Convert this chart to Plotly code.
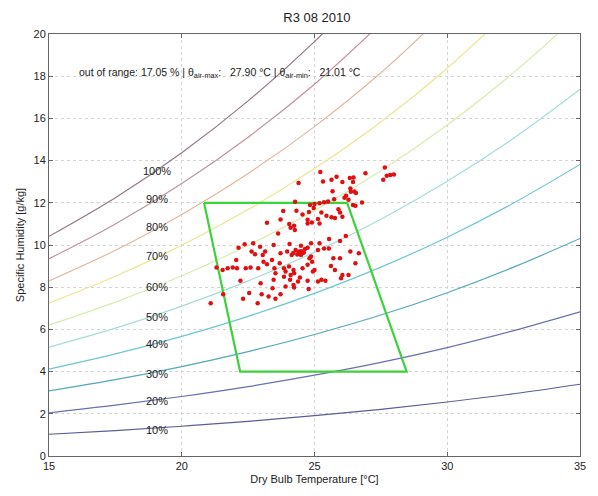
import plotly.graph_objects as go

# ---- data ----
temps = [15, 17.5, 20, 22.5, 25, 27.5, 30, 32.5, 35]
rh_levels = ["10%", "20%", "30%", "40%", "50%", "60%", "70%", "80%", "90%", "100%"]
rh_10 = [1.03, 1.20, 1.41, 1.64, 1.91, 2.21, 2.56, 2.95, 3.40]
rh_20 = [2.05, 2.41, 2.82, 3.29, 3.83, 4.44, 5.14, 5.94, 6.83]
rh_30 = [3.09, 3.62, 4.24, 4.95, 5.76, 6.68, 7.74, 8.95, 10.31]
rh_40 = [4.12, 4.84, 5.67, 6.62, 7.71, 8.95, 10.37, 11.99, 13.82]
rh_50 = [5.16, 6.06, 7.10, 8.30, 9.66, 11.22, 13.02, 15.06, 17.38]
rh_60 = [6.20, 7.29, 8.54, 9.99, 11.63, 13.52, 15.69, 18.17, 20.97]
rh_70 = [7.25, 8.52, 9.99, 11.68, 13.62, 15.83, 18.38, 21.30]
rh_80 = [8.30, 9.75, 11.45, 13.39, 15.61, 18.16, 21.10]
rh_90 = [9.35, 11.00, 12.91, 15.11, 17.62, 20.50]
rh_100 = [10.41, 12.24, 14.37, 16.83, 19.64, 22.87]
rh_curves = [rh_10, rh_20, rh_30, rh_40, rh_50, rh_60, rh_70, rh_80, rh_90, rh_100]
rh_colors = ["#5a5a9c", "#6670b0", "#52a8ba", "#6cc6d2", "#a6dcd8",
             "#d8ecb0", "#ece68e", "#e0b8a0", "#c0929c", "#907888"]

label_x = 19.05
label_y = [1.25, 2.61, 3.91, 5.32, 6.59, 8.0, 9.46, 10.85, 12.16, 13.53]

# comfort zone polygon
zone_t = [20.84, 26.23, 28.47, 22.2, 20.84]
zone_w = [12.0, 12.0, 4.0, 4.0, 12.0]

# measured points
meas_t = [27.65, 25.22, 24.40, 25.32, 25.64, 25.83, 26.05, 26.33, 26.47, 26.45, 26.92, 27.59, 27.72, 27.85, 27.99,
          25.68, 26.35, 26.37, 26.50, 26.19, 26.56, 25.74, 26.13, 26.28, 26.79, 26.45, 26.54, 24.27, 24.83, 25.0,
          25.19, 25.36, 25.51, 25.9, 25.96, 23.82, 23.72, 24.32, 24.55, 24.79, 24.97, 25.26, 25.45, 25.64, 23.21,
          24.05, 24.23, 24.74, 24.9, 25.13, 25.77, 26.05, 24.10, 24.26, 24.74, 25.19, 23.63,
          22.14, 22.37, 22.69, 22.95, 23.46, 24.06, 24.49, 24.87, 25.19, 25.55, 25.96, 26.18, 26.35, 26.67,
          25.54, 25.36, 25.13, 22.63, 22.76, 23.05, 23.14, 23.72, 23.97, 24.14, 24.29, 24.42, 24.55, 24.64,
          24.74, 24.49, 24.87, 24.81,
          22.05, 22.08, 21.31, 21.54, 21.73, 21.92, 22.41, 22.59, 22.88, 23.08, 23.21, 23.40, 23.49, 23.69,
          23.85, 24.04, 24.21, 24.55, 24.74, 24.91, 25.71, 25.96, 25.62, 25.77, 26.54, 26.05, 26.0, 26.28,
          22.21, 21.56, 21.09, 22.31, 22.54, 22.86, 22.97, 23.01, 23.27, 23.42, 23.46, 23.53, 23.72, 23.53,
          23.85, 23.91, 24.10, 24.08, 24.21, 24.23, 24.38, 24.45, 24.74, 24.78, 24.94, 25.0, 25.13, 25.26,
          25.41, 23.91, 24.23, 24.4, 24.5, 24.35, 24.6, 24.2]
meas_w = [13.67, 13.46, 12.94, 13.01, 13.09, 13.23, 12.98, 13.17, 13.20, 12.99, 13.40, 13.09, 13.28, 13.32, 13.34,
          12.55, 12.68, 12.52, 12.54, 12.33, 12.46, 12.17, 12.24, 12.14, 12.02, 11.89, 11.86, 12.05, 11.89, 11.94,
          11.98, 12.03, 12.06, 11.7, 11.54, 11.61, 11.21, 11.62, 11.45, 11.56, 11.75, 11.54, 11.39, 11.31, 11.06,
          11.0, 10.91, 11.2, 11.07, 11.23, 11.28, 11.34, 10.82, 10.71, 11.02, 11.02, 10.55,
          9.87, 10.03, 10.08, 9.92, 10.0, 10.05, 9.97, 10.08, 10.08, 10.28, 10.19, 10.43, 9.69, 9.61,
          9.84, 9.84, 9.76, 9.69, 9.56, 9.53, 9.69, 9.61, 9.69, 9.53, 9.76, 9.69, 9.61, 9.81,
          9.87, 9.53, 9.45, 9.37,
          9.29, 8.9, 8.93, 8.82, 8.9, 8.93, 8.9, 8.93, 8.9, 9.21, 9.09, 9.29, 8.9, 9.13,
          8.9, 8.98, 8.82, 8.9, 9.06, 9.21, 9.37, 9.37, 9.0, 8.82, 9.13, 8.58, 8.43, 8.58,
          8.31, 7.67, 7.24, 7.45, 7.72, 7.24, 8.19, 7.67, 7.56, 7.95, 8.35, 7.45, 7.67, 8.66,
          8.50, 8.03, 8.58, 8.35, 8.11, 7.98, 8.27, 8.46, 8.30, 7.91, 8.74, 8.82, 8.27, 8.35,
          8.30, 8.74, 8.66, 9.6, 9.7, 9.55, 9.65, 9.62]

x_ticks = [15, 20, 25, 30, 35]
y_ticks = [0, 2, 4, 6, 8, 10, 12, 14, 16, 18, 20]

fig = go.Figure()

for name, vals, col in zip(rh_levels, rh_curves, rh_colors):
    fig.add_trace(go.Scatter(x=temps[:len(vals)], y=vals, mode="lines", name=name,
                             line=dict(color=col, width=1.2, shape="spline", smoothing=1.0),
                             hoverinfo="skip", showlegend=False))

fig.add_trace(go.Scatter(x=zone_t, y=zone_w, mode="lines",
                         line=dict(color="#3cd23c", width=2.2), showlegend=False))

fig.add_trace(go.Scatter(x=meas_t, y=meas_w, mode="markers",
                         marker=dict(color="#e01010", size=4.5), showlegend=False))

for name, ly in zip(rh_levels, label_y):
    fig.add_annotation(x=label_x, y=ly, text=name, showarrow=False,
                       font=dict(size=11, color="#222"), xanchor="center", yanchor="middle")

fig.add_annotation(x=16.05, y=18.15, xanchor="left", yanchor="middle", showarrow=False,
                   text="out of range: 17.05 % | θ<sub>air-max</sub>:   27.90 °C | θ<sub>air-min</sub>:   21.01 °C",
                   font=dict(size=10.5, color="#222"))

axis_common = dict(showline=True, linecolor="#666", linewidth=1, mirror="ticks",
                   ticks="inside", ticklen=4, tickcolor="#666",
                   showgrid=True, gridcolor="#d4d4d4", griddash="dot", gridwidth=1,
                   zeroline=False, tickfont=dict(size=11, color="#222"))

fig.update_xaxes(range=[15, 35], tickvals=x_ticks, title=dict(text="Dry Bulb Temperature [°C]",
                 font=dict(size=11, color="#222"), standoff=4), **axis_common)
fig.update_yaxes(range=[0, 20], tickvals=y_ticks, title=dict(text="Specific Humidity [g/kg]",
                 font=dict(size=11, color="#222"), standoff=6), **axis_common)

fig.update_layout(
    width=598, height=496,
    margin=dict(l=49, r=12, t=34, b=37),
    paper_bgcolor="white", plot_bgcolor="white",
    font=dict(family="Liberation Sans, Arial, sans-serif"),
    title=dict(text="R3 08 2010", x=0.53, xanchor="center", y=0.965, yanchor="middle",
               font=dict(size=13, color="#222")),
)

fig.write_html("out.html", config={"displayModeBar": False},
               post_script="document.body.style.margin='0';document.body.style.overflow='hidden';")
